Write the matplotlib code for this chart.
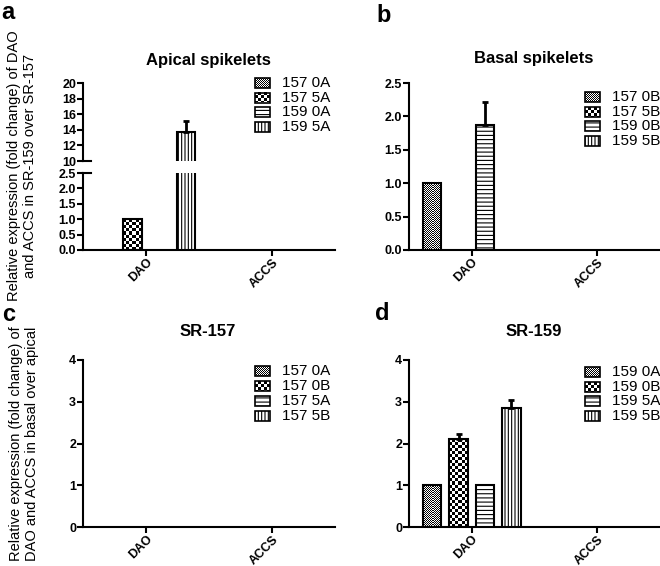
import numpy as np
import matplotlib
matplotlib.use('Agg')
import matplotlib.pyplot as plt
from matplotlib.patches import Rectangle

plt.rcParams['font.family'] = ['Liberation Sans', 'DejaVu Sans']
plt.rcParams['hatch.linewidth'] = 0.8

W, H = 660, 566

# ---------------- data ----------------
genes = ['DAO', 'ACCS']

a_title = 'Apical spikelets'
a_labels = ['157 0A', '157 5A', '159 0A', '159 5A']
a_values = [[0.0, 0.0], [1.0, 0.0], [0.0, 0.0], [13.7, 0.0]]
a_errors = [[0.0, 0.0], [0.0, 0.0], [0.0, 0.0], [1.4, 0.0]]

b_title = 'Basal spikelets'
b_labels = ['157 0B', '157 5B', '159 0B', '159 5B']
b_values = [[1.0, 0.0], [0.0, 0.0], [1.87, 0.0], [0.0, 0.0]]
b_errors = [[0.0, 0.0], [0.0, 0.0], [0.34, 0.0], [0.0, 0.0]]

c_title = 'SR-157'
c_labels = ['157 0A', '157 0B', '157 5A', '157 5B']
c_values = [[0.0, 0.0], [0.0, 0.0], [0.0, 0.0], [0.0, 0.0]]
c_errors = [[0.0, 0.0], [0.0, 0.0], [0.0, 0.0], [0.0, 0.0]]

d_title = 'SR-159'
d_labels = ['159 0A', '159 0B', '159 5A', '159 5B']
d_values = [[1.0, 0.0], [2.1, 0.0], [1.0, 0.0], [2.86, 0.0]]
d_errors = [[0.0, 0.0], [0.12, 0.0], [0.0, 0.0], [0.17, 0.0]]

ylabel_top = 'Relative expression (fold change) of DAO\nand ACCS in SR-159 over SR-157'
ylabel_bottom = 'Relative expression (fold change) of\nDAO and ACCS in basal over apical'

# ---------------- style ----------------
patterns = ['fine', 'checker', 'hline', 'vline']
hatches = {'hline': '----', 'vline': '|||||'}
cells = {'fine': 1, 'checker': 3}
pitch = 0.211
bar_w = 0.147
offsets = (np.arange(4) - 1.5) * pitch
LW = 1.5

fig = plt.figure(figsize=(W / 100, H / 100), dpi=100)


def fx(px):
    return px / W


def fy(py):
    return 1 - py / H


def add_ax(x0, x1, ytop, ybot):
    return fig.add_axes([fx(x0), fy(ybot), fx(x1) - fx(x0), (ybot - ytop) / H])


def checker_img(nx, ny):
    return (np.add.outer(np.arange(ny), np.arange(nx)) % 2).astype(float)


def style_ax(ax, ylim, yticks, fmt, show_x=True):
    ax.set_xlim(-0.5, 1.5)
    ax.set_ylim(*ylim)
    for s in ['top', 'right']:
        ax.spines[s].set_visible(False)
    for s in ['left', 'bottom']:
        ax.spines[s].set_linewidth(LW)
    ax.set_yticks(yticks)
    ax.set_yticklabels([fmt.format(t) for t in yticks], fontsize=9, fontweight='bold')
    ax.tick_params(axis='y', length=4, width=LW, pad=1)
    if show_x:
        ax.set_xticks(range(len(genes)))
        ax.set_xticklabels(genes, rotation=45, ha='right', va='top',
                           rotation_mode='anchor', fontsize=9, fontweight='bold')
        ax.tick_params(axis='x', length=4, width=LW, pad=0.5)
    else:
        ax.set_xticks([])
        ax.spines['bottom'].set_visible(False)
    ax.patch.set_alpha(0)


def draw_bars(ax, values, errors):
    ylo, yhi = ax.get_ylim()
    for i, (vals, errs) in enumerate(zip(values, errors)):
        pat = patterns[i]
        xs = np.arange(len(vals)) + offsets[i]
        for x, v, e in zip(xs, vals, errs):
            if v <= 0:
                continue
            x0, x1 = x - bar_w / 2, x + bar_w / 2
            if pat in cells:
                y0, y1 = max(0, ylo), min(v, yhi)
                if y1 > y0:
                    p0 = ax.transData.transform((x0, y0))
                    p1 = ax.transData.transform((x1, y1))
                    c = cells[pat]
                    nx = max(1, int(round(abs(p1[0] - p0[0]) / c)))
                    ny = max(1, int(round(abs(p1[1] - p0[1]) / c)))
                    ax.imshow(checker_img(nx, ny), extent=(x0, x1, y0, y1), cmap='gray_r',
                              interpolation='nearest', aspect='auto', origin='lower',
                              zorder=2, vmin=0, vmax=1)
                ax.bar(x, v, width=bar_w, facecolor='none', edgecolor='black',
                       linewidth=LW, zorder=3)
            else:
                ax.bar(x, v, width=bar_w, facecolor='white', edgecolor='black',
                       linewidth=LW, hatch=hatches[pat], zorder=3)
            if e > 0:
                ax.errorbar(x, v, yerr=[[0], [e]], fmt='none', ecolor='black',
                            elinewidth=2, capsize=2.5, capthick=2, zorder=4)
    ax.set_xlim(-0.5, 1.5)
    ax.set_ylim(ylo, yhi)


def draw_legend(labels, xp, rows):
    for lab, pat, yc in zip(labels, patterns, rows):
        x0, x1 = xp, xp + 15
        y0, y1 = yc - 5, yc + 5
        rect = (fx(x0), fy(y1)), fx(x1) - fx(x0), fy(y0) - fy(y1)
        if pat in cells:
            c = cells[pat]
            img = ((np.arange(10)[:, None] // c + np.arange(15)[None, :] // c) % 2) * 255
            rgb = np.stack([255 - img] * 3, axis=-1).astype(np.uint8)
            fig.figimage(rgb, xo=x0, yo=H - y1, zorder=1)
            fig.add_artist(Rectangle(*rect, transform=fig.transFigure, facecolor='none',
                                     edgecolor='black', linewidth=1.2, zorder=3))
        else:
            fig.add_artist(Rectangle(*rect, transform=fig.transFigure, facecolor='white',
                                     edgecolor='black', linewidth=1.2,
                                     hatch=hatches[pat], zorder=3))
        fig.text(fx(xp + 27), fy(yc), lab, fontsize=11, ha='left', va='center')


AX_L, AX_LR = 83, 335
AX_R, AX_RR = 409, 660

# ---------------- panel a (broken axis) ----------------
ax_a_top = add_ax(AX_L, AX_LR, 83, 161)
ax_a_bot = add_ax(AX_L, AX_LR, 173, 250)
style_ax(ax_a_top, (10, 20), np.arange(10, 21, 2), '{:.0f}', show_x=False)
style_ax(ax_a_bot, (0, 2.5), np.arange(0, 2.51, 0.5), '{:.1f}')
draw_bars(ax_a_top, a_values, a_errors)
draw_bars(ax_a_bot, a_values, a_errors)
# break marks
ax_a_top.plot([0, 0.03], [0, 0], transform=ax_a_top.transAxes, color='black',
              lw=LW, clip_on=False)
ax_a_bot.plot([0, 0.03], [1, 1], transform=ax_a_bot.transAxes, color='black',
              lw=LW, clip_on=False)
fig.text(fx(208), fy(61), a_title, fontsize=12, fontweight='bold', ha='center', va='center')
draw_legend(a_labels, 255, [83, 97.5, 112, 127])

# ---------------- panel b ----------------
ax_b = add_ax(AX_R, AX_RR, 83, 250)
style_ax(ax_b, (0, 2.5), np.arange(0, 2.51, 0.5), '{:.1f}')
draw_bars(ax_b, b_values, b_errors)
fig.text(fx(534), fy(59), b_title, fontsize=12, fontweight='bold', ha='center', va='center')
draw_legend(b_labels, 585, [97, 112, 126, 141])

# ---------------- panel c ----------------
ax_c = add_ax(AX_L, AX_LR, 360, 527)
style_ax(ax_c, (0, 4), np.arange(0, 5, 1), '{:.0f}')
draw_bars(ax_c, c_values, c_errors)
fig.text(fx(208), fy(332), c_title, fontsize=12, fontweight='bold', ha='center', va='center')
draw_legend(c_labels, 255, [371, 386, 401, 416])

# ---------------- panel d ----------------
ax_d = add_ax(AX_R, AX_RR, 360, 527)
style_ax(ax_d, (0, 4), np.arange(0, 5, 1), '{:.0f}')
draw_bars(ax_d, d_values, d_errors)
fig.text(fx(534), fy(331), d_title, fontsize=12, fontweight='bold', ha='center', va='center')
draw_legend(d_labels, 585, [372, 387, 401, 416])

# ---------------- y labels & panel letters ----------------
fig.text(fx(22), fy(166), ylabel_top, rotation=90, fontsize=10.5, ha='center', va='center',
         multialignment='center', linespacing=1.1)
fig.text(fx(24), fy(444), ylabel_bottom, rotation=90, fontsize=10.5, ha='center', va='center',
         multialignment='center', linespacing=1.1)

for letter, (px, py) in zip(['a', 'b', 'c', 'd'], [(1, 19), (376, 22), (2, 321), (375, 320)]):
    fig.text(fx(px), fy(py), letter, fontsize=17, fontweight='bold', ha='left', va='baseline')

fig.savefig('out.png', dpi=100)
